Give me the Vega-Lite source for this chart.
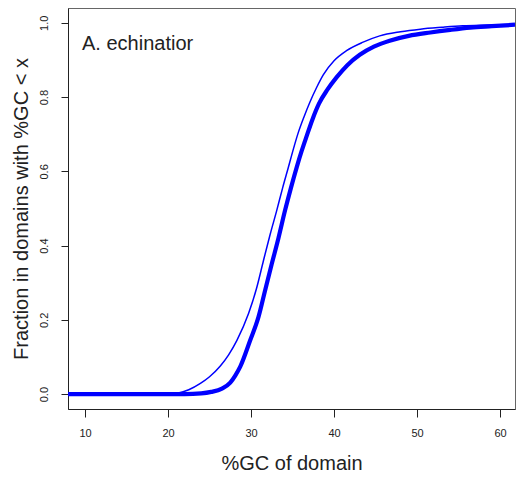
{
  "$schema": "https://vega.github.io/schema/vega-lite/v6.json",
  "autosize": {"type": "none"},
  "width": 447,
  "height": 401,
  "padding": {"left": 68, "top": 8, "right": 1, "bottom": 74},
  "background": "white",
  "config": {
    "font": "Liberation Sans",
    "view": {"stroke": "#666", "strokeWidth": 1},
    "axis": {"grid": false, "domainColor": "#222", "tickColor": "#222", "labelColor": "#222", "titleColor": "#222", "labelFont": "Liberation Sans", "titleFont": "Liberation Sans", "titleFontWeight": "normal"}
  },
  "datasets": {
    "thin": [
      {"gc": 7.9, "frac": 0}, {"gc": 15, "frac": 0}, {"gc": 20, "frac": 0}, {"gc": 21, "frac": 0.002},
      {"gc": 22.5, "frac": 0.012}, {"gc": 23.9, "frac": 0.029}, {"gc": 25, "frac": 0.047}, {"gc": 26.3, "frac": 0.076},
      {"gc": 27.3, "frac": 0.106}, {"gc": 28.3, "frac": 0.145}, {"gc": 29.7, "frac": 0.217}, {"gc": 30.7, "frac": 0.288},
      {"gc": 31.5, "frac": 0.36}, {"gc": 32.3, "frac": 0.43}, {"gc": 33.1, "frac": 0.495}, {"gc": 33.8, "frac": 0.555},
      {"gc": 34.5, "frac": 0.611}, {"gc": 35.1, "frac": 0.66}, {"gc": 35.7, "frac": 0.705}, {"gc": 36.4, "frac": 0.748},
      {"gc": 37.1, "frac": 0.787}, {"gc": 37.9, "frac": 0.826}, {"gc": 38.7, "frac": 0.86}, {"gc": 40, "frac": 0.898},
      {"gc": 41.5, "frac": 0.925}, {"gc": 43.5, "frac": 0.948}, {"gc": 45.5, "frac": 0.965}, {"gc": 48, "frac": 0.976},
      {"gc": 50.4, "frac": 0.983}, {"gc": 53, "frac": 0.988}, {"gc": 55.5, "frac": 0.992}, {"gc": 58.5, "frac": 0.994},
      {"gc": 61.8, "frac": 0.996}
    ],
    "thick": [
      {"gc": 7.9, "frac": 0}, {"gc": 15, "frac": 0}, {"gc": 22, "frac": 0}, {"gc": 24, "frac": 0.002},
      {"gc": 25.2, "frac": 0.006}, {"gc": 26.5, "frac": 0.015}, {"gc": 27.5, "frac": 0.031}, {"gc": 28.1, "frac": 0.05}, {"gc": 28.7, "frac": 0.074},
      {"gc": 29.9, "frac": 0.145}, {"gc": 30.9, "frac": 0.208}, {"gc": 31.7, "frac": 0.28}, {"gc": 32.5, "frac": 0.351},
      {"gc": 33.3, "frac": 0.42}, {"gc": 34.1, "frac": 0.495}, {"gc": 34.8, "frac": 0.555}, {"gc": 35.5, "frac": 0.611},
      {"gc": 36.1, "frac": 0.655}, {"gc": 36.7, "frac": 0.695}, {"gc": 37.4, "frac": 0.74}, {"gc": 38.2, "frac": 0.783},
      {"gc": 39.2, "frac": 0.82}, {"gc": 40.3, "frac": 0.853}, {"gc": 41.6, "frac": 0.886}, {"gc": 43.1, "frac": 0.914},
      {"gc": 44.8, "frac": 0.936}, {"gc": 46.7, "frac": 0.952}, {"gc": 49, "frac": 0.965}, {"gc": 51.6, "frac": 0.974},
      {"gc": 54, "frac": 0.981}, {"gc": 56.4, "frac": 0.987}, {"gc": 59, "frac": 0.991}, {"gc": 61.8, "frac": 0.995}
    ],
    "label": [{"gc": 9.64, "frac": 0.944, "text": "A. echinatior"}]
  },
  "encoding": {
    "x": {
      "field": "gc", "type": "quantitative",
      "scale": {"domain": [7.95, 61.8], "nice": false, "zero": false},
      "axis": {"title": "%GC of domain", "values": [10, 20, 30, 40, 50, 60], "tickSize": 8, "labelFontSize": 11, "labelPadding": 10, "titleFontSize": 20, "titlePadding": 15, "labelFlush": false}
    },
    "y": {
      "field": "frac", "type": "quantitative",
      "scale": {"domain": [-0.04, 1.04], "nice": false, "zero": false},
      "axis": {"title": "Fraction in domains with %GC < x", "values": [0, 0.2, 0.4, 0.6, 0.8, 1.0], "format": ".1f", "tickSize": 7, "labelAngle": -90, "labelAlign": "center", "labelBaseline": "bottom", "labelFontSize": 11, "labelPadding": 12, "titleFontSize": 20, "titlePadding": 7, "labelFlush": false}
    }
  },
  "layer": [
    {"data": {"name": "thin"}, "mark": {"type": "line", "color": "#0000ff", "strokeWidth": 1.5, "interpolate": "monotone", "clip": true}},
    {"data": {"name": "thick"}, "mark": {"type": "line", "color": "#0000ff", "strokeWidth": 4.2, "interpolate": "monotone", "clip": true}},
    {"data": {"name": "label"}, "mark": {"type": "text", "align": "left", "baseline": "middle", "fontSize": 20, "color": "#222"}, "encoding": {"text": {"field": "text"}}}
  ]
}
